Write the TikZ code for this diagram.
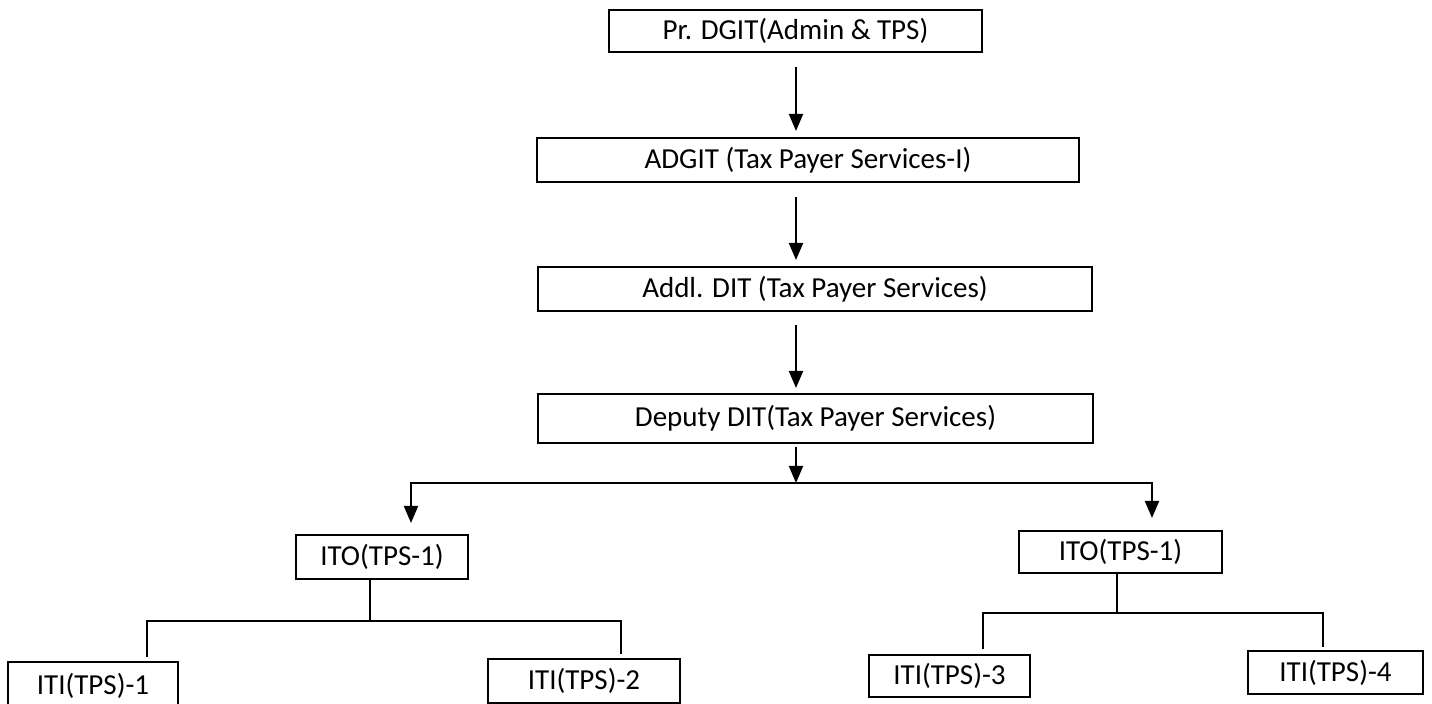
\documentclass[tikz,border=0pt]{standalone}
\usepackage{fontspec}
\setmainfont{Carlito}
\usetikzlibrary{arrows.meta}

\begin{document}
\begin{tikzpicture}[x=0.5pt,y=-0.5pt,
		box/.style = {draw, line width=1pt, inner sep=0pt, font=\fontsize{14.5}{17}\selectfont},
		arr/.style = {line width=1pt, -{Triangle[length=8.5pt,width=7pt]}},
		link/.style = {line width=1pt}]
		\useasboundingbox (0,0) rectangle (1432,704);
		%%%%%%%%%%%%%
		\node[box, minimum width=186.5pt, minimum height=21pt] (a) at (795.5, 31) {Pr. DGIT(Admin \& TPS)};
		\node[box, minimum width=271pt, minimum height=22pt] (b) at (808, 160) {ADGIT (Tax Payer Services-I)};
		\node[box, minimum width=277pt, minimum height=22pt] (c) at (815, 289) {Addl. DIT (Tax Payer Services)};
		\node[box, minimum width=277.5pt, minimum height=24.5pt] (d) at (815.5, 418.5) {Deputy DIT(Tax Payer Services)};
		\node[box, minimum width=86pt, minimum height=22pt] (e) at (382, 557) {ITO(TPS-1)};
		\node[box, minimum width=101.5pt, minimum height=21pt] (f) at (1120.5, 552) {ITO(TPS-1)};
		\node[box, minimum width=85pt, minimum height=24pt] (g) at (93, 686) {ITI(TPS)-1};
		\node[box, minimum width=96pt, minimum height=22pt] (h) at (584, 681) {ITI(TPS)-2};
		\node[box, minimum width=80.5pt, minimum height=21pt] (i) at (949.5, 676) {ITI(TPS)-3};
		\node[box, minimum width=87.5pt, minimum height=21.5pt] (j) at (1335.5, 672.5) {ITI(TPS)-4};
		%%%%%%%%%%%%%
		\coordinate (s) at (796, 483);
		\coordinate (l) at (370, 621);
		\coordinate (r) at (1117, 613);
		\coordinate (el) at (411, 523);
		\coordinate (fr) at (1152, 518);
		%%%%%%%%%%%%%
		\draw [arr, shorten <=7pt, shorten >=3pt] (a.south -| s) to (b.north -| s);
		\draw [arr, shorten <=7pt, shorten >=3pt] (b.south -| s) to (c.north -| s);
		\draw [arr, shorten <=6.5pt, shorten >=2.5pt] (c.south -| s) to (d.north -| s);
		\draw [arr, shorten <=1.5pt] (d.south -| s) to (s);
		\draw [arr] (s) -| (el);
		\draw [arr] (s) -| (fr);
		\draw [link] (e.south -| l) to (l);
		\draw [link, shorten >=2pt] (l) -| ([xshift=27pt]g.north);
		\draw [link, shorten >=2pt] (l) -| ([xshift=18.5pt]h.north);
		\draw [link] (f.south -| r) to (r);
		\draw [link, shorten >=2.5pt] (r) -| ([xshift=16.75pt]i.north);
		\draw [link, shorten >=1.5pt] (r) -| ([xshift=-6.25pt]j.north);
	\end{tikzpicture}
\end{document}
